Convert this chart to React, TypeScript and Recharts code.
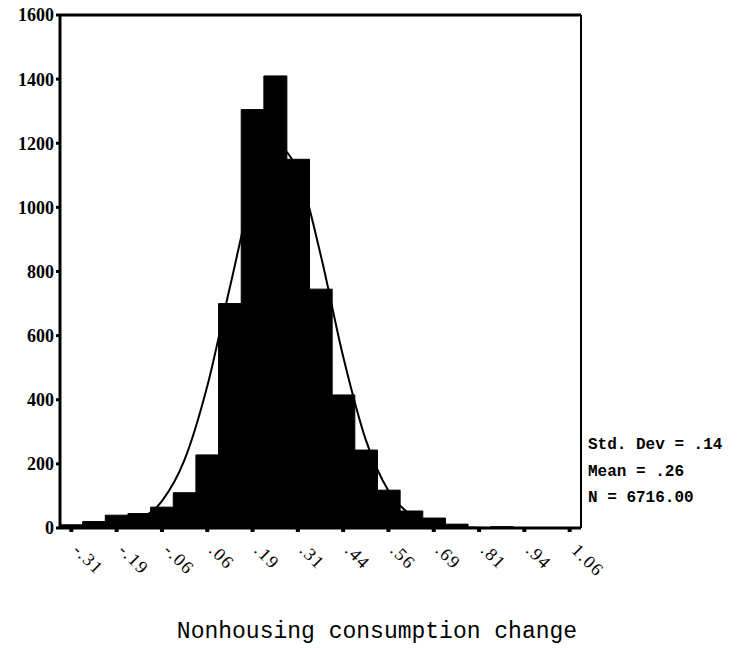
import { Bar, ComposedChart, Line, ReferenceLine, XAxis, YAxis } from "recharts";

// bin centres (width .0625), counts per bin, and the fitted normal curve
const bins = ["-.31", "-.25", "-.19", "-.13", "-.06", ".00", ".06", ".13", ".19", ".25", ".31", ".38", ".44", ".50", ".56", ".63", ".69", ".75", ".81", ".88", ".94", "1.00", "1.06"];
const counts = [10, 20, 40, 45, 65, 110, 228, 700, 1305, 1410, 1150, 745, 415, 243, 118, 53, 31, 12, 0, 4, 0, 0, 0];
const normalCurve = [0, 2, 7, 27, 84, 213, 442, 751, 1046, 1193, 1115, 854, 535, 275, 116, 40, 11, 3, 1, 0, 0, 0, 0];
const yTicks = [0, 200, 400, 600, 800, 1000, 1200, 1400, 1600];
const stats = ["Std. Dev = .14", "Mean = .26", "N = 6716.00"];

const data = bins.map((bin, i) => ({ bin, count: counts[i], normal: normalCurve[i] }));

const mono = "'Liberation Mono', 'DejaVu Sans Mono', monospace";

function XTick({ x, y, payload }: any) {
  const tx = x + 5;
  const ty = y + 13;
  return (
    <text
      x={tx}
      y={ty}
      transform={`rotate(45, ${tx}, ${ty})`}
      textAnchor="start"
      dominantBaseline="central"
      fontFamily="'Liberation Serif', serif"
      fontSize={18}
      letterSpacing={1.5}
      fill="#000"
    >
      {payload.value}
    </text>
  );
}

export default function App() {
  return (
    <div style={{ position: "absolute", left: 0, top: 0, width: 737, height: 650, background: "#fff" }}>
      <ComposedChart
        width={737}
        height={650}
        data={data}
        margin={{ top: 15, right: 154, bottom: 0, left: 0 }}
        barCategoryGap={0}
        barGap={0}
      >
        <XAxis
          dataKey="bin"
          interval={1}
          height={122}
          tick={<XTick />}
          tickSize={4}
          tickLine={{ stroke: "#000", strokeWidth: 4 }}
          axisLine={{ stroke: "#000", strokeWidth: 3 }}
        />
        <YAxis
          domain={[0, 1600]}
          ticks={yTicks}
          width={60}
          tickSize={4}
          tickMargin={2}
          tickLine={{ stroke: "#000", strokeWidth: 3 }}
          axisLine={{ stroke: "#000", strokeWidth: 3 }}
          tick={{ fill: "#000", fontFamily: "'Liberation Serif', serif", fontWeight: "bold", fontSize: 18 }}
        />
        <YAxis
          yAxisId="frame"
          orientation="right"
          domain={[0, 1600]}
          ticks={yTicks}
          width={2}
          tick={false}
          tickLine={false}
          axisLine={{ stroke: "#000", strokeWidth: 2 }}
        />
        <ReferenceLine y={1600} stroke="#000" strokeWidth={3} />
        <Bar dataKey="count" fill="#000" stroke="#000" strokeWidth={1} isAnimationActive={false} />
        <Line
          yAxisId="frame"
          dataKey="normal"
          type="monotone"
          stroke="#000"
          strokeWidth={2}
          dot={false}
          isAnimationActive={false}
        />
      </ComposedChart>
      {stats.map((s, i) => (
        <div
          key={s}
          style={{
            position: "absolute",
            left: 588,
            top: 435 + i * 26.5,
            lineHeight: "20px",
            fontFamily: mono,
            fontWeight: "bold",
            fontSize: 16,
            whiteSpace: "pre",
          }}
        >
          {s}
        </div>
      ))}
      <div
        style={{
          position: "absolute",
          left: 0,
          width: 754,
          top: 619,
          textAlign: "center",
          fontFamily: mono,
          fontSize: 23,
          lineHeight: "26px",
        }}
      >
        Nonhousing consumption change
      </div>
    </div>
  );
}
